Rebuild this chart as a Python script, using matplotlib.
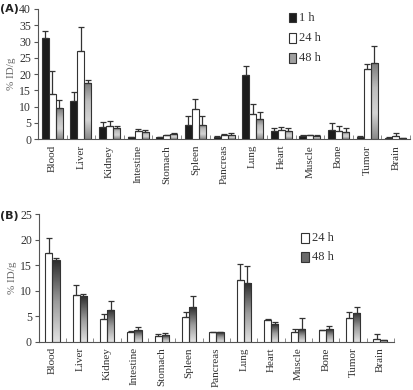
import numpy as np
import matplotlib
matplotlib.use("Agg")
import matplotlib.pyplot as plt
from matplotlib.colors import LinearSegmentedColormap
from matplotlib.patches import Rectangle

organs = ["Blood", "Liver", "Kidney", "Intestine", "Stomach", "Spleen", "Pancreas",
          "Lung", "Heart", "Muscle", "Bone", "Tumor", "Brain"]

# Panel A
a_1h = [31.0, 11.6, 3.7, 0.6, 0.6, 4.5, 0.8, 19.6, 2.5, 0.9, 2.8, 0.8, 0.5]
a_1h_err = [2.2, 2.8, 1.7, 0.1, 0.1, 2.5, 0.1, 2.8, 1.1, 0.4, 2.1, 0.3, 0.1]
a_24h = [14.0, 27.0, 4.2, 2.4, 1.3, 9.2, 1.3, 7.7, 2.7, 1.3, 2.6, 21.5, 1.0]
a_24h_err = [7.0, 7.5, 1.5, 0.6, 0.1, 3.1, 0.2, 3.2, 1.1, 0.1, 1.6, 1.5, 1.0]
a_48h = [9.5, 17.2, 3.5, 2.2, 1.7, 4.5, 1.4, 6.1, 2.6, 1.1, 2.2, 23.4, 0.3]
a_48h_err = [2.5, 0.9, 0.7, 0.7, 0.1, 2.5, 0.4, 2.4, 0.9, 0.2, 1.4, 5.1, 0.05]

# Panel B
b_24h = [17.4, 9.2, 4.5, 1.9, 1.1, 4.8, 1.8, 12.0, 4.2, 1.9, 2.2, 4.7, 0.6]
b_24h_err = [3.0, 2.0, 1.0, 0.1, 0.3, 1.1, 0.1, 3.3, 0.2, 0.5, 0.1, 1.2, 0.8]
b_48h = [16.0, 8.9, 6.3, 2.3, 1.3, 6.8, 1.8, 11.4, 3.4, 2.5, 2.5, 5.7, 0.3]
b_48h_err = [0.45, 0.5, 1.6, 0.5, 0.3, 2.1, 0.1, 3.4, 0.5, 2.1, 0.6, 1.0, 0.05]

plt.rcParams['font.family'] = ['Liberation Serif', 'DejaVu Serif']
EDGE = '#333333'
TXT = '#333333'

cmap_a = LinearSegmentedColormap.from_list('ga', ['#8a8a8a', '#d4d4d4', '#bdbdbd', '#7a7a7a'])
cmap_b = LinearSegmentedColormap.from_list('gb', ['#e2e2e2', '#9a9a9a', '#2e2e2e'])


def grad_bars(ax, x, h, w, cmap):
    for xi, hi in zip(x, h):
        rect = Rectangle((xi - w / 2, 0), w, hi, facecolor='none', edgecolor=EDGE,
                         linewidth=0.8, zorder=3)
        ax.add_patch(rect)
        grad = np.linspace(0, 1, 64).reshape(-1, 1)
        im = ax.imshow(grad, extent=[xi - w / 2, xi + w / 2, hi, 0], aspect='auto',
                       cmap=cmap, zorder=2, origin='upper', interpolation='bilinear')
        im.set_clip_path(rect)


def plain_bars(ax, x, h, w, color):
    ax.bar(x, h, w, color=color, edgecolor=EDGE, linewidth=0.8, zorder=3)


def errs(ax, x, h, e, cs):
    ax.errorbar(x, h, yerr=[np.zeros(len(e)), e], fmt='none', ecolor=EDGE,
                elinewidth=0.9, capsize=cs, capthick=0.9, zorder=4)


def style(ax, ymax, ystep):
    ax.set_xlim(-0.5, len(organs) - 0.5)
    ax.set_ylim(0, ymax)
    ax.set_yticks(np.arange(0, ymax + 0.1, ystep))
    ax.set_xticks(np.arange(len(organs)))
    ax.set_xticklabels(organs, rotation=90, fontsize=8, color=TXT)
    ax.tick_params(axis='x', which='major', length=0, pad=4)
    ax.set_xticks(np.arange(len(organs) + 1) - 0.5, minor=True)
    ax.tick_params(axis='x', which='minor', direction='in', length=3, color='#777777')
    ax.tick_params(axis='y', direction='out', length=3, labelsize=8.5, color='#555555',
                   labelcolor=TXT, pad=2)
    for s in ['top', 'right']:
        ax.spines[s].set_visible(False)
    for s in ['left', 'bottom']:
        ax.spines[s].set_color('#555555')
        ax.spines[s].set_linewidth(0.8)
    ax.set_ylabel('% ID/g', fontsize=8, color='#666666', labelpad=2)


fig = plt.figure(figsize=(4.13, 3.9), dpi=100)

# Panel A
axA = fig.add_axes([0.092, 0.643, 0.901, 0.334])
x = np.arange(len(organs))
w = 0.245
plain_bars(axA, x - w, a_1h, w, '#1c1c1c')
plain_bars(axA, x, a_24h, w, 'white')
grad_bars(axA, x + w, a_48h, w, cmap_a)
errs(axA, x - w, a_1h, a_1h_err, 2.5)
errs(axA, x, a_24h, a_24h_err, 2.5)
errs(axA, x + w, a_48h, a_48h_err, 2.5)
style(axA, 40, 5)

# legend A
for i, (lab, fc) in enumerate([('1 h', '#1c1c1c'), ('24 h', 'white'), ('48 h', '#a0a0a0')]):
    yy = 0.955 - i * 0.052
    fig.patches.append(Rectangle((0.700, yy - 0.012), 0.017, 0.024, transform=fig.transFigure,
                                 facecolor=fc, edgecolor=EDGE, linewidth=0.8))
    fig.text(0.725, yy, lab, fontsize=9, va='center', ha='left', color=TXT)

# Panel B
axB = fig.add_axes([0.094, 0.124, 0.860, 0.327])
w2 = 0.26
plain_bars(axB, x - w2 / 2, b_24h, w2, 'white')
grad_bars(axB, x + w2 / 2, b_48h, w2, cmap_b)
errs(axB, x - w2 / 2, b_24h, b_24h_err, 2.5)
errs(axB, x + w2 / 2, b_48h, b_48h_err, 2.5)
style(axB, 25, 5)

for i, (lab, fc) in enumerate([('24 h', 'white'), ('48 h', '#6a6a6a')]):
    yy = 0.390 - i * 0.049
    fig.patches.append(Rectangle((0.730, yy - 0.012), 0.017, 0.024, transform=fig.transFigure,
                                 facecolor=fc, edgecolor=EDGE, linewidth=0.8))
    fig.text(0.755, yy, lab, fontsize=9, va='center', ha='left', color=TXT)

fig.text(0.0, 0.978, '(A)', fontsize=8, fontweight='bold', family='DejaVu Sans',
         va='center', ha='left', color='#222222')
fig.text(0.0, 0.445, '(B)', fontsize=8, fontweight='bold', family='DejaVu Sans',
         va='center', ha='left', color='#222222')

fig.savefig('out.png', dpi=100)
